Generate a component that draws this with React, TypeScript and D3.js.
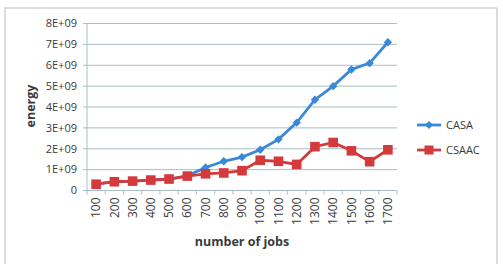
import React from "react";
import * as d3 from "d3";

const categories = ["100", "200", "300", "400", "500", "600", "700", "800", "900", "1000", "1100", "1200", "1300", "1400", "1500", "1600", "1700"];
const casa = [0.3, 0.42, 0.45, 0.5, 0.55, 0.7, 1.1, 1.4, 1.6, 1.95, 2.45, 3.25, 4.35, 5.0, 5.8, 6.1, 7.1];
const csaac = [0.3, 0.42, 0.45, 0.5, 0.55, 0.69, 0.8, 0.84, 0.95, 1.45, 1.4, 1.25, 2.1, 2.3, 1.9, 1.38, 1.95];
const yTicks = [0, 1, 2, 3, 4, 5, 6, 7, 8];
const yTickLabels = ["0", "1E+09", "2E+09", "3E+09", "4E+09", "5E+09", "6E+09", "7E+09", "8E+09"];

const W = 503;
const H = 264;
const plot = { left: 87, right: 397, top: 23.5, bottom: 190.5 };
const FONT = "'Open Sans', Lato, sans-serif";
const BLUE = "#3a88d8";
const RED = "#d43a3c";
const GRID = "#a9bec2";
const TEXT = "#3a3a3a";

export default function App() {
  const x = d3.scaleBand<string>().domain(categories).range([plot.left, plot.right]);
  const y = d3.scaleLinear().domain([0, 8]).range([plot.bottom, plot.top]);
  const cx = (c: string) => (x(c) as number) + x.bandwidth() / 2;

  const line = d3
    .line<number>()
    .x((_, i) => cx(categories[i]))
    .y((v) => y(v));

  const boundaries = d3.range(categories.length + 1).map((i) => plot.left + i * x.bandwidth());

  const diamond = (px: number, py: number, r: number) =>
    `M${px},${py - r}L${px + r},${py}L${px},${py + r}L${px - r},${py}Z`;

  const legendX = 417;
  const legend = [
    { name: "CASA", color: BLUE, y: 125, shape: "diamond" },
    { name: "CSAAC", color: RED, y: 150, shape: "square" },
  ];

  return (
    <svg width={W} height={H} style={{ position: "fixed", left: 0, top: 0, background: "#fff" }}>
      <rect x={5} y={8} width={492} height={262} fill="#fff" stroke="#cfd3d3" strokeWidth={1.5} />

      {yTicks.map((t, i) => (
        <g key={t}>
          <line x1={plot.left - 4} x2={plot.right} y1={y(t)} y2={y(t)} stroke={GRID} strokeWidth={1} />
          <text x={plot.left - 10} y={y(t)} dy="0.35em" textAnchor="end" fontSize={11} fontFamily={FONT} fill={TEXT}>
            {yTickLabels[i]}
          </text>
        </g>
      ))}
      <line x1={plot.left} x2={plot.left} y1={plot.top} y2={plot.bottom} stroke={GRID} strokeWidth={1} />

      {boundaries.map((bx, i) => (
        <line key={i} x1={bx} x2={bx} y1={plot.bottom} y2={plot.bottom + 4} stroke={GRID} strokeWidth={1} />
      ))}

      {categories.map((c) => (
        <text
          key={c}
          transform={`translate(${cx(c)},${plot.bottom + 7}) rotate(-90)`}
          dy="0.35em"
          textAnchor="end"
          fontSize={12}
          fontFamily={FONT}
          fill={TEXT}
        >
          {c}
        </text>
      ))}

      <text x={(plot.left + plot.right) / 2} y={246} textAnchor="middle" fontSize={12.5} fontWeight="bold" fontFamily={FONT} fill={TEXT}>
        number of jobs
      </text>
      <text transform={`translate(31,106) rotate(-90)`} dy="0.35em" textAnchor="middle" fontSize={12.5} fontWeight="bold" fontFamily={FONT} fill={TEXT}>
        energy
      </text>

      <path d={line(casa) ?? ""} fill="none" stroke={BLUE} strokeWidth={2.8} />
      {casa.map((v, i) => (
        <path key={i} d={diamond(cx(categories[i]), y(v), 4.2)} fill={BLUE} />
      ))}

      <path d={line(csaac) ?? ""} fill="none" stroke={RED} strokeWidth={2.8} />
      {csaac.map((v, i) => (
        <rect key={i} x={cx(categories[i]) - 4.8} y={y(v) - 4.8} width={9.6} height={9.6} fill={RED} />
      ))}

      {legend.map((l) => (
        <g key={l.name}>
          <line x1={legendX} x2={legendX + 24} y1={l.y} y2={l.y} stroke={l.color} strokeWidth={2.8} />
          {l.shape === "diamond" ? (
            <path d={diamond(legendX + 12, l.y, 4)} fill={l.color} />
          ) : (
            <rect x={legendX + 12 - 4.5} y={l.y - 4.5} width={9} height={9} fill={l.color} />
          )}
          <text x={legendX + 29} y={l.y} dy="0.35em" fontSize={11} fontFamily={FONT} fill={TEXT}>
            {l.name}
          </text>
        </g>
      ))}
    </svg>
  );
}
